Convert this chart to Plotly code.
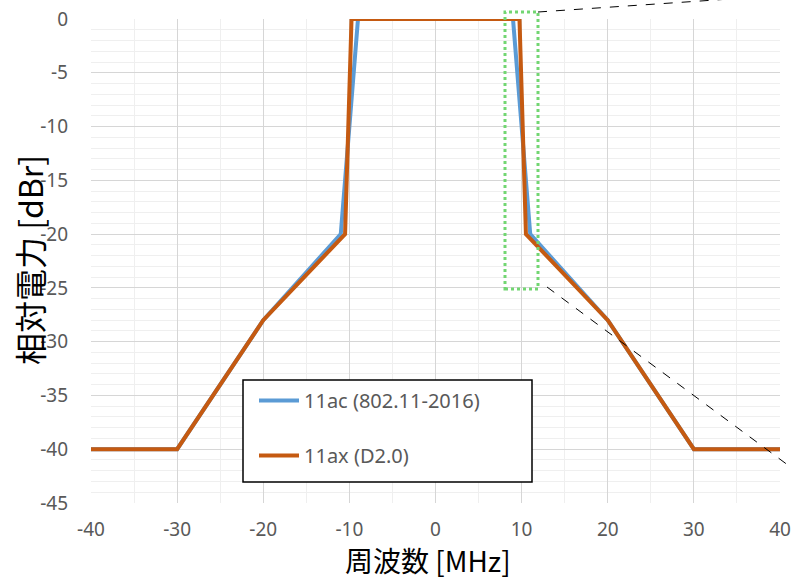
import plotly.graph_objects as go

# Spectrum mask data (frequency offset MHz, relative power dBr)
freq_11ac = [-40, -30, -20, -11, -9, 9, 11, 20, 30, 40]
power_11ac = [-40, -40, -28, -20, 0, 0, -20, -28, -40, -40]
freq_11ax = [-40, -30, -20, -10.5, -9.75, 9.75, 10.5, 20, 30, 40]
power_11ax = [-40, -40, -28, -20, 0, 0, -20, -28, -40, -40]
name_11ac = "11ac (802.11-2016)"
name_11ax = "11ax (D2.0)"

x_ticks = [-40, -30, -20, -10, 0, 10, 20, 30, 40]
x_ticktext = ["-40", "-30", "-20", "-10", "0", "10", "20", "30", "40"]
y_ticks = [0, -5, -10, -15, -20, -25, -30, -35, -40, -45]
y_ticktext = ["0", "-5", "-10", "-15", "-20", "-25", "-30", "-35", "-40", "-45"]
x_title = "周波数 [MHz]"
y_title = "相対電力 [dBr]"

W, H = 792, 581
L, R, T, B = 91, 12, 19, 78
pw, ph = W - L - R, H - T - B

def px(xp):
    return (xp - L) / pw

def py(yp):
    return (H - B - yp) / ph

fig = go.Figure()
fig.add_trace(go.Scatter(x=freq_11ac, y=power_11ac, mode="lines", name=name_11ac,
                         line=dict(color="#5b9bd5", width=4), legendgroup="a"))
fig.add_trace(go.Scatter(x=freq_11ax, y=power_11ax, mode="lines", name=name_11ax,
                         line=dict(color="#c55a11", width=4), legendgroup="b"))

tickfont = dict(family="Noto Sans, sans-serif", size=19, color="#595959")

fig.update_layout(
    width=W, height=H,
    margin=dict(l=L, r=R, t=T, b=B, autoexpand=False),
    paper_bgcolor="white", plot_bgcolor="white",
    showlegend=True,
    legend=dict(
        x=px(254), y=py(381), xanchor="left", yanchor="top",
        bgcolor="rgba(0,0,0,0)", borderwidth=0,
        font=dict(family="Noto Sans, sans-serif", size=20, color="#595959"),
        tracegroupgap=26, itemwidth=40,
    ),
    xaxis=dict(
        range=[-40, 40], tickvals=x_ticks, ticktext=x_ticktext,
        showline=False, zeroline=False, automargin=False,
        showgrid=True, gridcolor="#d6d6d6", gridwidth=1.3,
        minor=dict(dtick=5, tick0=0, showgrid=True, gridcolor="#efefef", gridwidth=1.2),
        tickfont=tickfont, ticks="", ticklabelstandoff=13,
    ),
    yaxis=dict(
        range=[-45, 0], tickvals=y_ticks, ticktext=y_ticktext,
        showline=False, zeroline=False, automargin=False,
        showgrid=True, gridcolor="#d6d6d6", gridwidth=1.3,
        minor=dict(dtick=1, tick0=0, showgrid=True, gridcolor="#efefef", gridwidth=1.2),
        tickfont=tickfont, ticks="", ticklabelstandoff=22,
    ),
)

# Axis titles
fig.add_annotation(text=x_title, xref="paper", yref="paper",
                   x=px(427.5), y=py(581), xanchor="center", yanchor="bottom",
                   showarrow=False, borderpad=0,
                   font=dict(family="Noto Sans CJK JP, sans-serif", size=28, color="#000000"))
fig.add_annotation(text=y_title, xref="paper", yref="paper",
                   x=px(29), y=py(260), xanchor="center", yanchor="middle",
                   textangle=-90, showarrow=False,
                   font=dict(family="Noto Sans CJK JP, sans-serif", size=32, color="#000000"))

# Legend frame (white box with black border behind the legend entries)
fig.add_shape(type="rect", xref="paper", yref="paper",
              x0=px(243), x1=px(532), y0=py(482), y1=py(380),
              fillcolor="white", line=dict(color="#000000", width=1.5), layer="above")

# Highlight box around the 11ax transition region
fig.add_shape(type="rect", xref="paper", yref="paper",
              x0=px(505), x1=px(538), y0=py(289), y1=py(12),
              line=dict(color="#72d672", width=3, dash="dot"), layer="above")
# Zoom-guide dashed lines
fig.add_shape(type="line", xref="paper", yref="paper",
              x0=px(538), y0=py(12), x1=px(730), y1=py(-1),
              line=dict(color="#000000", width=1, dash="dash"))
fig.add_shape(type="line", xref="paper", yref="paper",
              x0=px(547), y0=py(287), x1=px(800), y1=py(474),
              line=dict(color="#000000", width=1, dash="dash"))

fig.write_html("out.html")
